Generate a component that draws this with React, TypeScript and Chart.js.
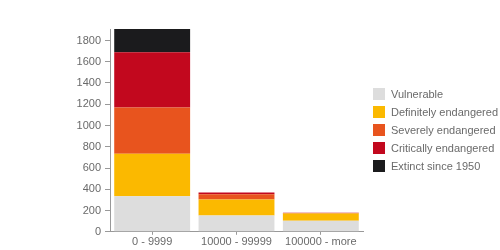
import React, { useEffect, useRef } from "react";
import { Chart, registerables } from "chart.js";

Chart.register(...registerables);

const categories = ["0 - 9999", "10000 - 99999", "100000 - more"];
const seriesNames = [
  "Vulnerable",
  "Definitely endangered",
  "Severely endangered",
  "Critically endangered",
  "Extinct since 1950",
];
const vulnerable = [334, 154, 104];
const definitely = [401, 149, 68];
const severely = [435, 50, 6];
const critically = [520, 16, 2];
const extinct = [218, 0, 0];
const colors = ["#dddddd", "#fbb900", "#e8541e", "#c2081e", "#1b1b1d"];
const yTicks = [0, 200, 400, 600, 800, 1000, 1200, 1400, 1600, 1800];
const yMax = 1908;

const FONT = "Liberation Sans, Arial, sans-serif";

export default function App() {
  const ref = useRef<HTMLCanvasElement>(null);
  useEffect(() => {
    document.body.style.margin = "0";
    const values = [vulnerable, definitely, severely, critically, extinct];
    const chart = new Chart(ref.current!, {
      type: "bar",
      data: {
        labels: categories,
        datasets: seriesNames.map((name, i) => ({
          label: name,
          data: values[i],
          backgroundColor: colors[i],
          borderWidth: 0,
          barPercentage: 0.9,
          categoryPercentage: 1,
        })),
      },
      options: {
        animation: false,
        responsive: false,
        maintainAspectRatio: false,
        layout: { padding: { top: 29, right: 137, bottom: 0, left: 1 } },
        plugins: {
          tooltip: { enabled: false },
          legend: { display: false },
        },
        scales: {
          x: {
            stacked: true,
            border: { display: true, color: "#999" },
            grid: {
              display: true,
              drawOnChartArea: false,
              drawTicks: true,
              tickLength: 3,
              offset: false,
              color: "#999",
            },
            ticks: {
              color: "#6a6a6a",
              padding: 1,
              font: { family: FONT, size: 11 },
            },
          },
          y: {
            stacked: true,
            min: 0,
            max: yMax,
            border: { display: true, color: "#999" },
            grid: {
              display: true,
              drawOnChartArea: false,
              drawTicks: true,
              tickLength: 5,
              color: "#999",
            },
            afterBuildTicks: (scale: any) => {
              scale.ticks = yTicks.map((v) => ({ value: v }));
            },
            afterFit: (scale: any) => {
              scale.width = 109;
            },
            ticks: {
              color: "#6a6a6a",
              padding: 4,
              font: { family: FONT, size: 11 },
              callback: (v: any) => String(v),
            },
          },
        },
      },
    });
    return () => chart.destroy();
  }, []);
  return (
    <div style={{ position: "relative", width: 500, height: 250 }}>
      <canvas ref={ref} width={500} height={250} />
      <div
        style={{
          position: "absolute",
          left: 373,
          top: 85,
          fontFamily: FONT,
          fontSize: 11,
          color: "#6a6a6a",
        }}
      >
        {seriesNames.map((name, i) => (
          <div
            key={name}
            style={{ display: "flex", alignItems: "center", height: 18.1, whiteSpace: "nowrap" }}
          >
            <span
              style={{
                display: "inline-block",
                width: 12,
                height: 12,
                background: colors[i],
                marginRight: 6,
              }}
            />
            <span>{name}</span>
          </div>
        ))}
      </div>
    </div>
  );
}
